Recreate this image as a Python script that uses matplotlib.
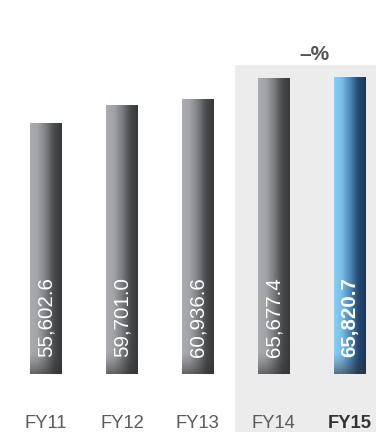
import numpy as np
import matplotlib
matplotlib.use("Agg")
import matplotlib.pyplot as plt
from matplotlib.colors import LinearSegmentedColormap

# Net sales by fiscal year
years = ["FY11", "FY12", "FY13", "FY14", "FY15"]
values = [55602.6, 59701.0, 60936.6, 65677.4, 65820.7]
value_labels = ["55,602.6", "59,701.0", "60,936.6", "65,677.4", "65,820.7"]
change_label = "\u2013%"

W, H, DPI = 376, 432, 100
fig = plt.figure(figsize=(W / DPI, H / DPI), dpi=DPI)
ax = fig.add_axes([0, 0, 1, 1])
ax.set_axis_off()

# layout in pixels: baseline 58 px above the bottom, 4.51 px per 1000
px_per_unit = 4.51 / 1000.0
base_px = 58
ax.set_ylim(-base_px / px_per_unit, (H - base_px) / px_per_unit)
step = 75.9
first = 46
ax.set_xlim(-first / step, (W - first) / step)

x = np.arange(len(years))
bar_w = 0.42

# highlight panel behind the latest two years
y0, y1 = ax.get_ylim()
x0, x1 = ax.get_xlim()
panel = plt.Rectangle((2.49, y0), x1 - 2.49, 68500 - y0,
                      facecolor="#ececec", edgecolor="none", zorder=0)
ax.add_patch(panel)

gray_cmap = LinearSegmentedColormap.from_list(
    "gray_bar", ["#acadb1", "#a2a3a7", "#7c7d80", "#4a4b4d", "#37383a"])
blue_cmap = LinearSegmentedColormap.from_list(
    "blue_bar", ["#8ad0f3", "#78bde6", "#4f88b8", "#264b74", "#1a3656"])

grad = np.linspace(0, 1, 256).reshape(1, -1)
shade_h = 24 / px_per_unit
shade = np.zeros((64, 1, 4))
shade[..., :3] = 0.2
# transparent at the top of the band, darkest at the bar foot
shade[:, 0, 3] = np.linspace(0.0, 0.7, 64) ** 1.5

bars = ax.bar(x, values, width=bar_w, color="none", edgecolor="none", zorder=2)
for i, (b, v) in enumerate(zip(bars, values)):
    last = i == len(values) - 1
    cmap = blue_cmap if last else gray_cmap
    left = b.get_x()
    right = left + b.get_width()
    im = ax.imshow(grad, cmap=cmap, aspect="auto",
                   extent=(left, right, 0, v), zorder=2, interpolation="bilinear")
    im.set_clip_path(b)
    sh = ax.imshow(shade, aspect="auto", origin="upper",
                   extent=(left, right, 0, shade_h), zorder=3,
                   interpolation="bilinear")
    sh.set_clip_path(b)

    ax.text(x[i], 17 / px_per_unit, value_labels[i], rotation=90,
            rotation_mode="anchor", ha="left", va="center",
            color="white", fontsize=14.8, family=["Liberation Sans"],
            fontweight="bold" if last else "normal", zorder=4)

    ax.text(x[i], -49 / px_per_unit, years[i], ha="center", va="center",
            fontsize=13.2, family=["Liberation Sans"],
            fontweight="bold" if last else "normal",
            color="#333333" if last else "#5a5a5a", zorder=4)

ax.text(3.54, (H - 54 - base_px) / px_per_unit, change_label,
        ha="center", va="center", fontsize=15, fontweight="bold",
        family=["Liberation Sans"], color="#555555", zorder=4)

fig.savefig("out.png", dpi=DPI)
